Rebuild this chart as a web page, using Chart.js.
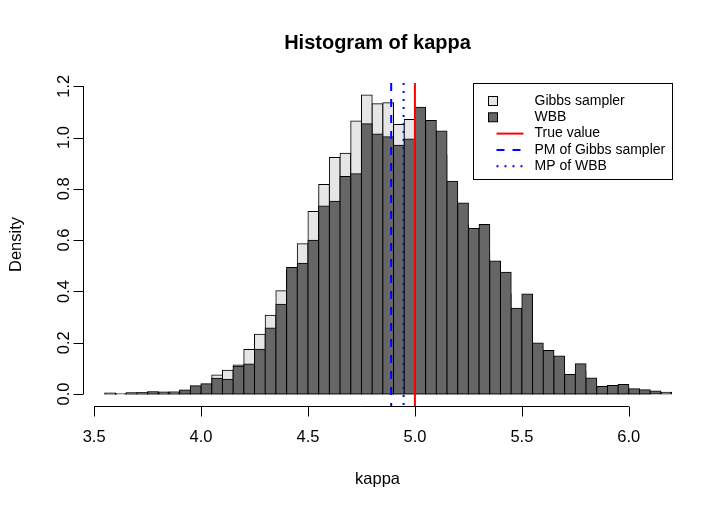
<!DOCTYPE html>
<html>
<head>
<meta charset="utf-8">
<title>Histogram of kappa</title>
<script src="https://cdn.jsdelivr.net/npm/chart.js@4.4.1/dist/chart.umd.min.js"></script>
<style>
  html, body { margin: 0; padding: 0; background: #fff; }
  #wrap { width: 714px; height: 510px; }
</style>
</head>
<body>
<div id="wrap"><canvas id="hist" width="714" height="510"></canvas></div>
<script>
// histogram bin edges (width 0.05)
const breaks = [3.55, 3.60, 3.65, 3.70, 3.75, 3.80, 3.85, 3.90, 3.95, 4.00,
  4.05, 4.10, 4.15, 4.20, 4.25, 4.30, 4.35, 4.40, 4.45, 4.50,
  4.55, 4.60, 4.65, 4.70, 4.75, 4.80, 4.85, 4.90, 4.95, 5.00,
  5.05, 5.10, 5.15, 5.20, 5.25, 5.30, 5.35, 5.40, 5.45, 5.50,
  5.55, 5.60, 5.65, 5.70, 5.75, 5.80, 5.85, 5.90, 5.95, 6.00,
  6.05, 6.10, 6.15, 6.20];

// densities, one per bin starting at 3.55
const gibbsDensity = [0.003, 0.001, 0.004, 0.005, 0.008, 0.007, 0.008, 0.015, 0.030, 0.038,
  0.074, 0.093, 0.113, 0.174, 0.233, 0.307, 0.403, 0.485, 0.586, 0.712,
  0.817, 0.922, 0.939, 1.064, 1.166, 1.132, 1.136, 1.051, 1.070, 1.050,
  1.000, 0.930, 0.760, 0.660, 0.560, 0.550, 0.440, 0.390, 0.290, 0.310,
  0.170, 0.140, 0.120, 0.065, 0.090, 0.050, 0.025, 0.025, 0.030, 0.018, 0.012];

const wbbDensity = [0.004, 0.001, 0.005, 0.005, 0.009, 0.008, 0.008, 0.016, 0.032, 0.040,
  0.062, 0.058, 0.108, 0.117, 0.175, 0.257, 0.350, 0.493, 0.510, 0.600,
  0.733, 0.752, 0.848, 0.859, 1.054, 1.014, 1.003, 0.970, 0.994, 1.118,
  1.066, 1.025, 0.830, 0.745, 0.645, 0.661, 0.519, 0.475, 0.334, 0.390,
  0.199, 0.170, 0.148, 0.076, 0.118, 0.063, 0.029, 0.033, 0.037, 0.021,
  0.017, 0.012, 0.007];

const xTicks = [3.5, 4.0, 4.5, 5.0, 5.5, 6.0];
const xTickLabels = ['3.5', '4.0', '4.5', '5.0', '5.5', '6.0'];
const yTicks = [0, 0.2, 0.4, 0.6, 0.8, 1.0, 1.2];
const yTickLabels = ['0.0', '0.2', '0.4', '0.6', '0.8', '1.0', '1.2'];

const trueValue = 5.0;
const gibbsMean = 4.889;
const wbbMode = 4.947;

const legendLabels = ['Gibbs sampler', 'WBB', 'True value', 'PM of Gibbs sampler', 'MP of WBB'];

const FONT = '"Liberation Sans", Arial, Helvetica, sans-serif';
const LIGHT = '#e6e6e6';
const DARK = '#666666';

const toPoints = (dens) => dens.map((v, i) => ({ x: (breaks[i] + breaks[i + 1]) / 2, y: v }));

// R style axes, abline's and legend
const rPlot = {
  id: 'rPlot',
  afterDatasetsDraw(chart) {
    const { ctx, chartArea: area, scales: { x, y } } = chart;
    ctx.save();

    // vertical lines
    const vline = (val, color, dash) => {
      const px = x.getPixelForValue(val);
      ctx.beginPath();
      ctx.setLineDash(dash);
      ctx.strokeStyle = color;
      ctx.lineWidth = 2;
      ctx.moveTo(px, area.top);
      ctx.lineTo(px, area.bottom);
      ctx.stroke();
    };
    vline(trueValue, '#ff0000', []);
    vline(gibbsMean, '#0000ff', [8, 8]);
    vline(wbbMode, '#0000ff', [2, 6]);
    ctx.setLineDash([]);

    ctx.strokeStyle = '#000';
    ctx.fillStyle = '#000';
    ctx.lineWidth = 1;

    // x axis
    const xb = Math.round(area.bottom) + 0.5;
    ctx.beginPath();
    ctx.moveTo(x.getPixelForValue(xTicks[0]), xb);
    ctx.lineTo(x.getPixelForValue(xTicks[xTicks.length - 1]), xb);
    xTicks.forEach(t => {
      const px = Math.round(x.getPixelForValue(t)) + 0.5;
      ctx.moveTo(px, xb);
      ctx.lineTo(px, xb + 10);
    });
    ctx.stroke();
    ctx.font = '16.5px ' + FONT;
    ctx.textAlign = 'center';
    ctx.textBaseline = 'middle';
    xTicks.forEach((t, i) => ctx.fillText(xTickLabels[i], x.getPixelForValue(t), 437));

    // y axis
    const yl = Math.round(area.left) + 0.5;
    ctx.beginPath();
    ctx.moveTo(yl, y.getPixelForValue(yTicks[0]));
    ctx.lineTo(yl, y.getPixelForValue(yTicks[yTicks.length - 1]));
    yTicks.forEach(t => {
      const py = Math.round(y.getPixelForValue(t)) + 0.5;
      ctx.moveTo(yl, py);
      ctx.lineTo(yl - 10, py);
    });
    ctx.stroke();
    yTicks.forEach((t, i) => {
      ctx.save();
      ctx.translate(64, y.getPixelForValue(t));
      ctx.rotate(-Math.PI / 2);
      ctx.fillText(yTickLabels[i], 0, 0);
      ctx.restore();
    });

    // axis titles and main title
    ctx.fillText('kappa', (area.left + area.right) / 2, 479);
    ctx.save();
    ctx.translate(16, (area.top + area.bottom) / 2);
    ctx.rotate(-Math.PI / 2);
    ctx.fillText('Density', 0, 0);
    ctx.restore();
    ctx.font = 'bold 20px ' + FONT;
    ctx.fillText('Histogram of kappa', (area.left + area.right) / 2, 43);

    // legend box, top right corner of the plot region
    const bw = 199, bh = 96;
    const bx = Math.round(area.right) - bw + 0.5;
    const by = Math.round(area.top) + 0.5;
    ctx.fillStyle = '#fff';
    ctx.fillRect(bx, by, bw, bh);
    ctx.strokeStyle = '#000';
    ctx.strokeRect(bx, by, bw, bh);
    ctx.font = '14px ' + FONT;
    ctx.textAlign = 'left';
    legendLabels.forEach((lab, i) => {
      const cy = by + 17.5 + i * 16.3;
      ctx.fillStyle = '#000';
      ctx.fillText(lab, bx + 61, cy);
      if (i < 2) {
        ctx.fillStyle = i === 0 ? LIGHT : DARK;
        ctx.fillRect(bx + 15, cy - 4.5, 9, 9);
        ctx.strokeStyle = '#000';
        ctx.strokeRect(bx + 15, cy - 4.5, 9, 9);
      } else {
        ctx.beginPath();
        ctx.lineWidth = 2;
        ctx.strokeStyle = i === 2 ? '#ff0000' : '#0000ff';
        ctx.setLineDash(i === 2 ? [] : (i === 3 ? [8, 8] : [2, 6]));
        ctx.moveTo(bx + 23, cy);
        ctx.lineTo(bx + 50, cy);
        ctx.stroke();
        ctx.setLineDash([]);
        ctx.lineWidth = 1;
      }
    });

    ctx.restore();
  }
};

new Chart(document.getElementById('hist'), {
  type: 'bar',
  data: {
    datasets: [
      {
        label: 'WBB',
        data: toPoints(wbbDensity),
        backgroundColor: DARK,
        order: 0
      },
      {
        label: 'Gibbs sampler',
        data: toPoints(gibbsDensity),
        backgroundColor: LIGHT,
        order: 1
      }
    ]
  },
  options: {
    responsive: false,
    animation: false,
    layout: { padding: { left: 83, right: 42, top: 83, bottom: 104 } },
    datasets: {
      bar: {
        grouped: false,
        barPercentage: 1,
        categoryPercentage: 1,
        borderColor: '#000',
        borderWidth: 1,
        borderSkipped: false,
        inflateAmount: 0.5
      }
    },
    scales: {
      x: { type: 'linear', min: 3.448, max: 6.202, offset: false, display: false },
      y: { type: 'linear', min: -0.0466, max: 1.2126, display: false }
    },
    plugins: {
      legend: { display: false },
      tooltip: { enabled: false },
      title: { display: false }
    }
  },
  plugins: [rPlot]
});
</script>
</body>
</html>
